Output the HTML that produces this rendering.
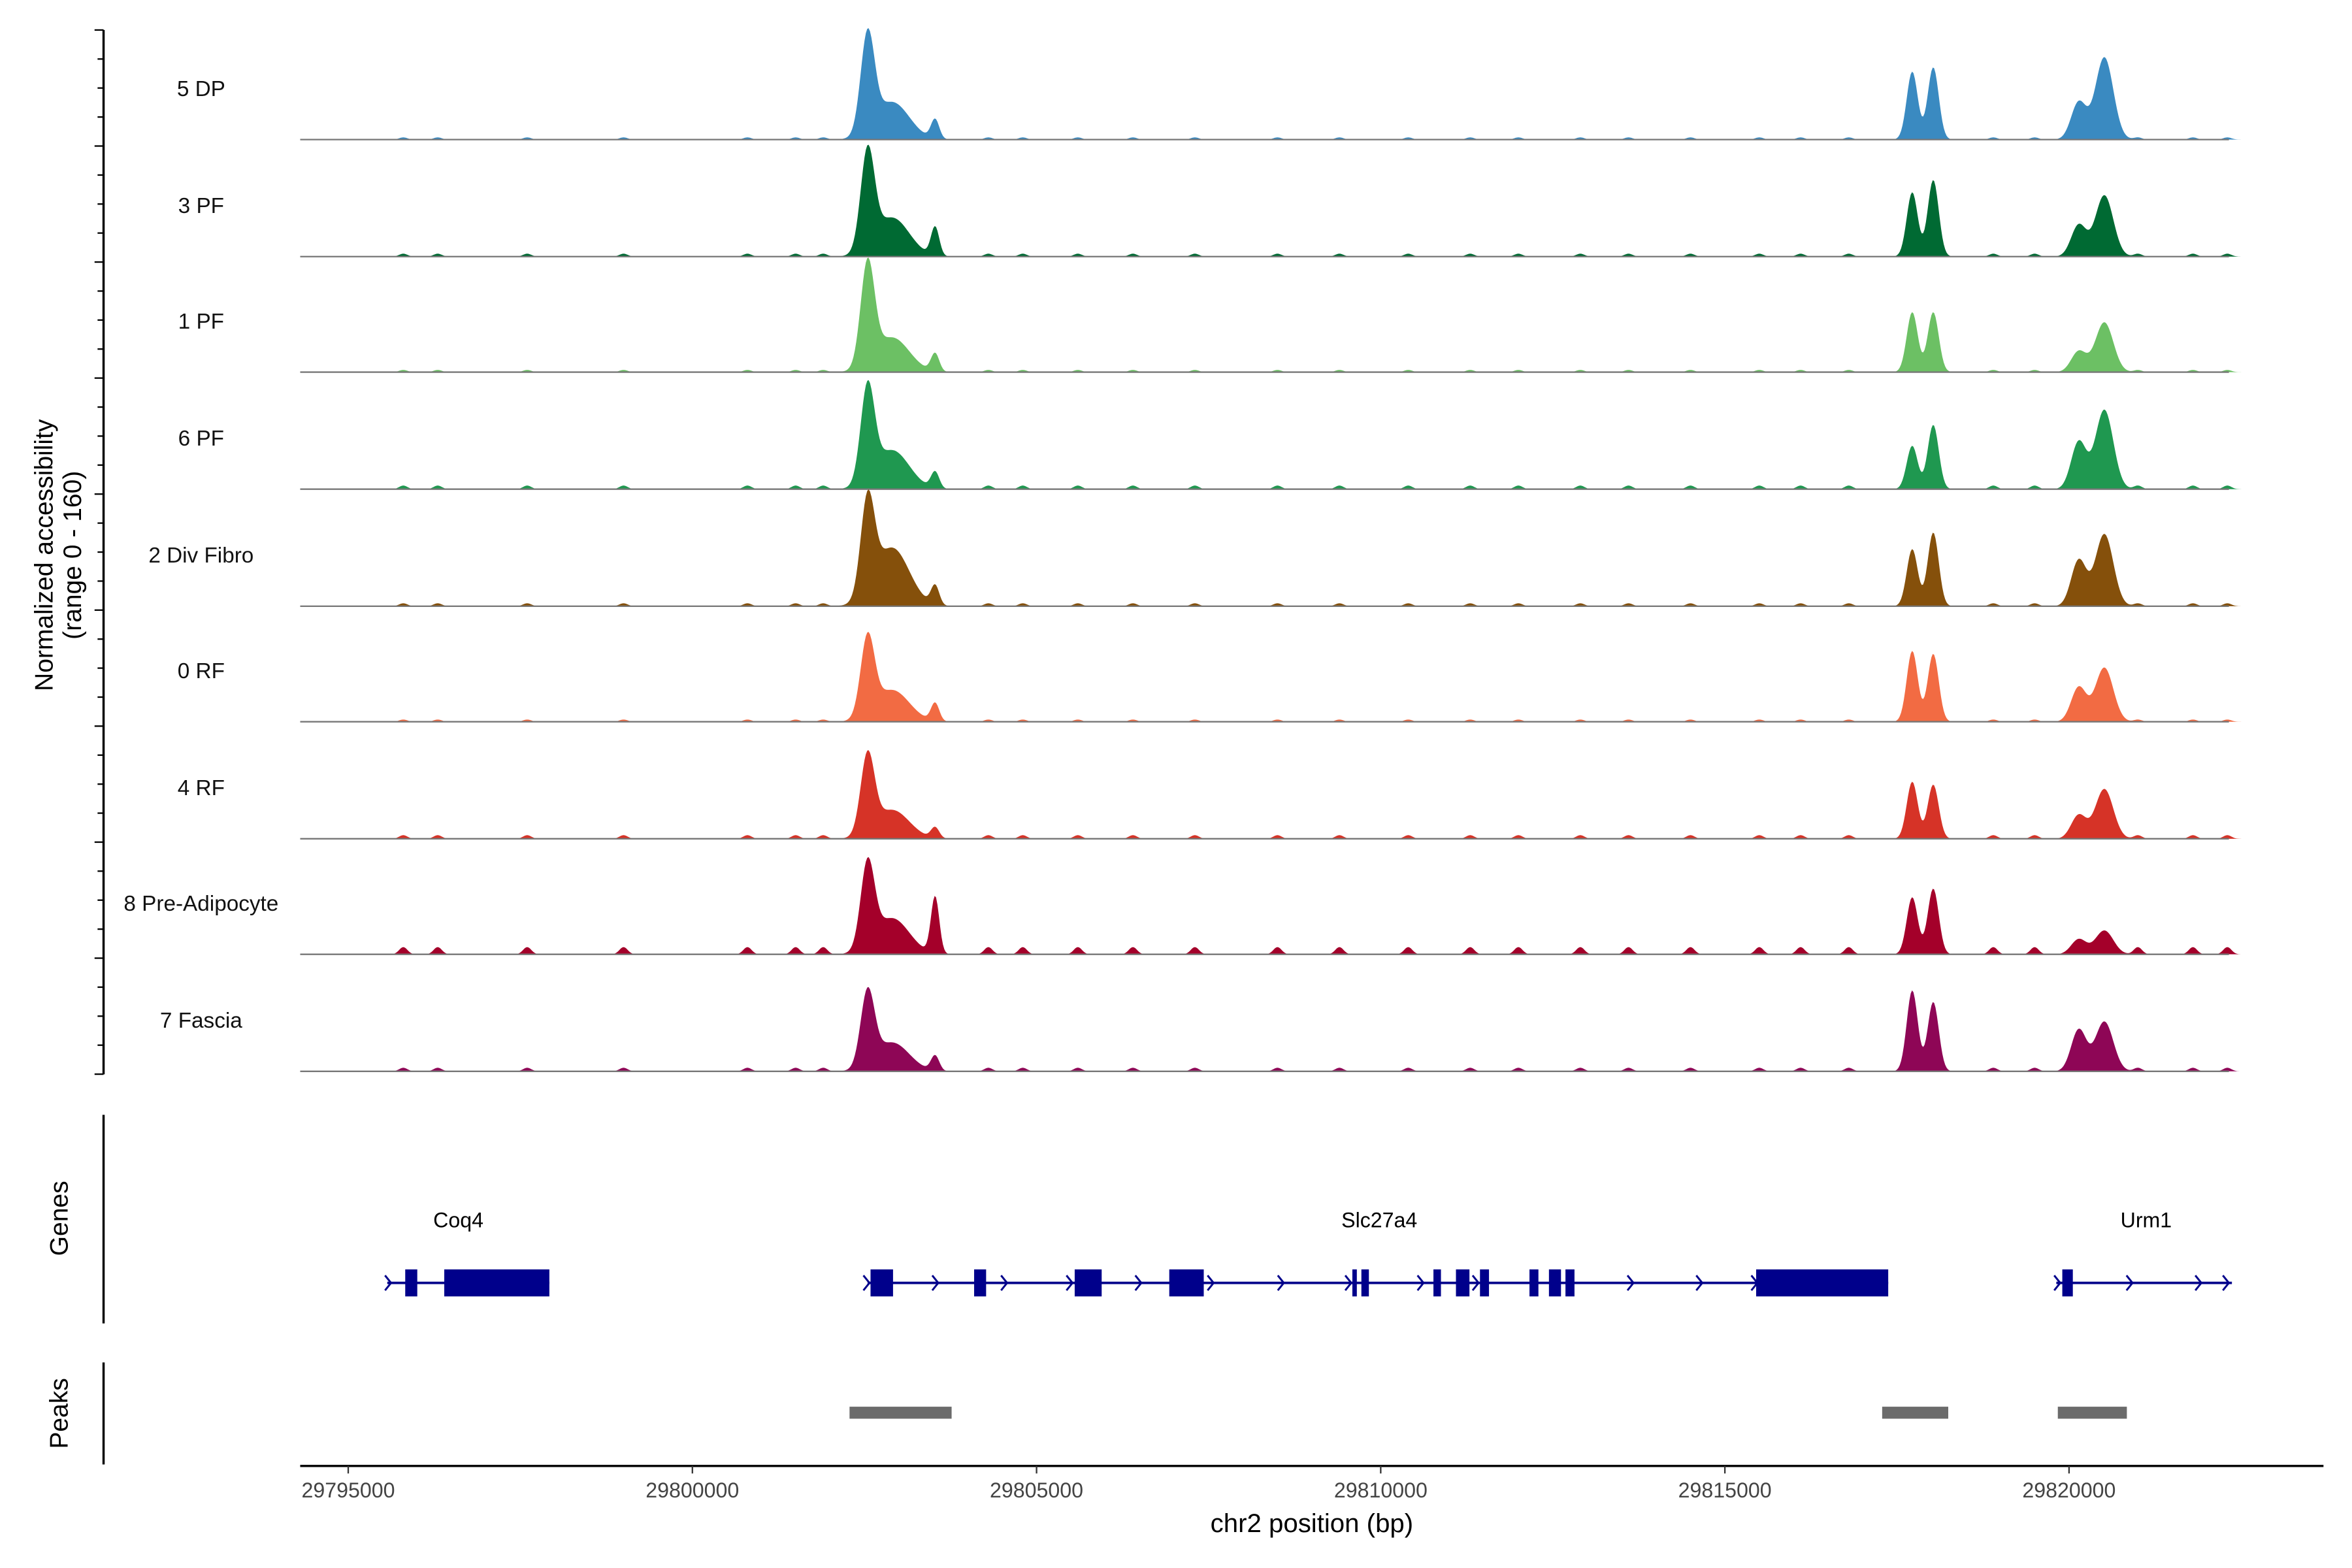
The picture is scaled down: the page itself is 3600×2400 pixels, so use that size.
<!DOCTYPE html>
<html><head><meta charset="utf-8"><style>html,body{margin:0;padding:0;background:#fff}svg{display:block}</style></head>
<body>
<svg id="chart" width="3600" height="2400" viewBox="0 0 1567 1045" preserveAspectRatio="none" xmlns="http://www.w3.org/2000/svg" font-family="Liberation Sans, sans-serif"></svg>
<script>
// ---- data ----
const trackNames = ["5 DP","3 PF","1 PF","6 PF","2 Div Fibro","0 RF","4 RF","8 Pre-Adipocyte","7 Fascia"];
const trackColors = ["#3a8ac1","#006a33","#6cc064","#1f9850","#85500b","#f26b43","#d63327","#a4002a","#8e0656"];
// peak centers (bp) and widths (bp, sigma)
const peakCenters = [29802545, 29802900, 29803526, 29817722, 29818027, 29820142, 29820513];
const peakWidths  = [100, 250, 60, 80, 80, 110, 130];
// heights on the 0-160 scale per track
const peakHeights = [
  [135, 52, 27, 94, 100, 52, 114],
  [135, 54, 40, 89, 106, 44, 85],
  [141, 48, 25, 83, 83, 29, 69],
  [131, 54, 23, 60, 89, 66, 110],
  [131, 81, 27, 79, 102, 64, 100],
  [108, 44, 25, 98, 94, 48, 75],
  [108, 40, 15, 79, 75, 33, 69],
  [116, 50, 79, 79, 91, 21, 33],
  [102, 40, 21, 112, 96, 58, 69]
];
// low background signal positions (bp) and per-track levels
const noisePos = [29795800,29796300,29797600,29799000,29800800,29801500,29801900,29804300,29804800,29805600,29806400,29807300,29808500,29809400,29810400,29811300,29812000,29812900,29813600,29814500,29815500,29816100,29816800,29818900,29819500,29821000,29821800,29822300];
const noiseLevel = [3, 4, 3, 5, 4, 3, 5, 10, 5];
const xTicks = [29795000, 29800000, 29805000, 29810000, 29815000, 29820000];
const genes = [
  {name:"Coq4", start:29795567, end:29797922, label:29796600, exons:[[29795828,29796003],[29796395,29797922]], arrows:[29795600]},
  {name:"Slc27a4", start:29802545, end:29817373, label:29809980, exons:[[29802588,29802915],[29804093,29804267],[29805554,29805946],[29806928,29807429],[29809588,29809653],[29809719,29809828],[29810766,29810875],[29811093,29811289],[29811442,29811573],[29812161,29812291],[29812444,29812619],[29812684,29812815],[29815454,29817373]], arrows:[29802550,29803550,29804550,29805500,29806500,29807550,29808570,29809550,29810600,29811400,29812250,29813650,29814650,29815450]},
  {name:"Urm1", start:29819815, end:29822366, label:29821120, exons:[[29819902,29820055]], arrows:[29819850,29820900,29821900,29822300]}
];
const peakRegions = [[29802283,29803766],[29817285,29818245],[29819837,29820840]];

// ---- scales ----
const X0 = 29794302, PXPERBP = 1/21.806;
const xs = bp => 200 + (bp - X0) * PXPERBP;
const baselines = [93,171,248,326,404,481,559,636,714];
const ys = (i, v) => baselines[i] - v * (70/135) * (65/70);

const svg = document.getElementById('chart');
const NS = "http://www.w3.org/2000/svg";
function mk(tag, attrs, parent){const e=document.createElementNS(NS,tag);for(const k in attrs)e.setAttribute(k,attrs[k]);(parent||svg).appendChild(e);return e;}

// tracks
trackNames.forEach((name,i)=>{
  const g = mk('g',{});
  
  
  let pts = [];
  for(let bp=29795600; bp<=29822500; bp+=20){
    let v=0;
    peakCenters.forEach((c,k)=>{const d=(bp-c)/peakWidths[k]; v+=peakHeights[i][k]*Math.exp(-0.5*d*d);});
    noisePos.forEach(p=>{const d=(bp-p)/60; v+=noiseLevel[i]*Math.exp(-0.5*d*d);});
    pts.push(xs(bp).toFixed(2)+','+ys(i,v).toFixed(2));
  }
  const poly = mk('polygon',{points: xs(29795600)+','+baselines[i]+' '+pts.join(' ')+' '+xs(29822500)+','+baselines[i], fill:trackColors[i]}, g);
  
  
  const base = mk('line',{x1:200,x2:1485,y1:baselines[i],y2:baselines[i],stroke:'#777','stroke-width':1}, g);
  
  
  const t = mk('text',{x:134,y:baselines[i]-29,'font-size':14.5,'text-anchor':'middle',fill:'#111'}, g);
  t.textContent = name;
  
  
});

// left axis
const ax = mk('line',{x1:69,x2:69,y1:20,y2:716,stroke:'#000','stroke-width':1.5});


for(let k=0;k<=36;k++){
  const y=20+k*19.33;
  const tk = mk('line',{x1:(k%4==0)?63:65,x2:69,y1:y,y2:y,stroke:'#000','stroke-width':1});
  
  
}
const yt = mk('text',{transform:'translate(35,370) rotate(-90)','font-size':17,'text-anchor':'middle',fill:'#000'});


yt.innerHTML = '<tspan x="0" dy="0">Normalized accessibility</tspan><tspan x="0" dy="19">(range 0 - 160)</tspan>';

// genes panel
const gAx = mk('line',{x1:69,x2:69,y1:743,y2:882,stroke:'#000','stroke-width':1.5});


const gt = mk('text',{transform:'translate(45,812) rotate(-90)','font-size':17,'text-anchor':'middle'});
gt.textContent='Genes';


genes.forEach(gn=>{
  const g = mk('g',{});
  
  
  mk('line',{x1:xs(gn.start),x2:xs(gn.end),y1:855,y2:855,stroke:'#00008b','stroke-width':1.6},g);
  gn.exons.forEach(e=>{
    const r = mk('rect',{x:xs(e[0]),y:846,width:Math.max(2,xs(e[1])-xs(e[0])),height:18,fill:'#00008b'},g);
    
    
  });
  gn.arrows.forEach(a=>{
    const x=xs(a);
    mk('polyline',{points:(x-3)+',850 '+(x+1)+',855 '+(x-3)+',860',fill:'none',stroke:'#00008b','stroke-width':1.3},g);
  });
  const t = mk('text',{x:xs(gn.label),y:818,'font-size':14,'text-anchor':'middle'},g);
  t.textContent = gn.name;
  
  
});

// peaks panel
const pAx = mk('line',{x1:69,x2:69,y1:908,y2:976,stroke:'#000','stroke-width':1.5});


const pt = mk('text',{transform:'translate(45,942) rotate(-90)','font-size':17,'text-anchor':'middle'});
pt.textContent='Peaks';


peakRegions.forEach(p=>{
  const r = mk('rect',{x:xs(p[0]),y:937.5,width:xs(p[1])-xs(p[0]),height:8,fill:'#6b6b6b'});
  
  
});

// x axis
const xa = mk('line',{x1:200,x2:1548,y1:977,y2:977,stroke:'#000','stroke-width':1.5});


xTicks.forEach(v=>{
  const x=xs(v);
  const tk = mk('line',{x1:x,x2:x,y1:977,y2:982,stroke:'#333','stroke-width':1});
  
  
  const t = mk('text',{x:x,y:998,'font-size':14,'text-anchor':'middle',fill:'#444'});
  t.textContent = String(v);
  
  
});
const xt = mk('text',{x:874,y:1021,'font-size':17.5,'text-anchor':'middle'});
xt.textContent='chr2 position (bp)';


</script>
</body></html>
